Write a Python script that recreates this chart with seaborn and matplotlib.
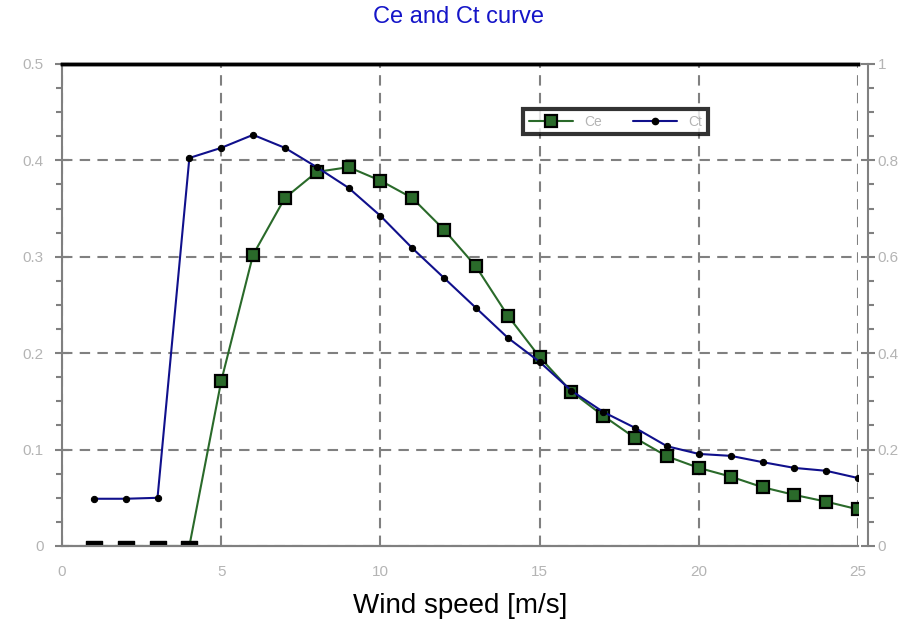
import matplotlib
matplotlib.use('Agg')
import matplotlib.pyplot as plt
import seaborn as sns
import numpy as np
from matplotlib.ticker import MultipleLocator
from matplotlib.lines import Line2D

# data
wind_speed = list(range(1, 26))
ce_values = [0, 0, 0, 0, 0.171, 0.302, 0.361, 0.388, 0.393, 0.379, 0.361, 0.328,
             0.290, 0.239, 0.196, 0.160, 0.135, 0.112, 0.093, 0.081, 0.072,
             0.061, 0.053, 0.046, 0.038]
ct_values = [0.098, 0.098, 0.1, 0.805, 0.826, 0.853, 0.826, 0.786, 0.743, 0.685,
             0.618, 0.556, 0.494, 0.432, 0.382, 0.322, 0.278, 0.245, 0.207,
             0.191, 0.187, 0.174, 0.162, 0.156, 0.141]

sns.set_theme(style='white')
plt.rcParams['font.family'] = ['Liberation Sans', 'DejaVu Sans']

grey = '#808080'
label_grey = '#b4b4b4'
ce_color = '#2a6a2a'
ct_color = '#10108c'

fig = plt.figure(figsize=(9.13, 6.23), dpi=100)
ax1 = fig.add_axes([0.0679, 0.1236, 0.8719, 0.7737])
ax2 = ax1.twinx()

ce_arr = np.array(ce_values)
on_axis = np.flatnonzero(ce_arr == 0)
above = [int(i) for i in np.flatnonzero(ce_arr > 0)]

sns.lineplot(x=wind_speed, y=ce_values, ax=ax1, color=ce_color, linewidth=1.5,
             marker='s', markersize=8, markerfacecolor=ce_color,
             markeredgecolor='black', markeredgewidth=1.6, markevery=above,
             zorder=3)
# points lying on the zero line only show their upper part in the original
half_square = [(-1, 0), (1, 0), (1, 0.7), (-1, 0.7), (-1, 0)]
ax1.plot(np.array(wind_speed)[on_axis], ce_arr[on_axis], linestyle='none',
         marker=half_square, markersize=11, color='black', zorder=3)
sns.lineplot(x=wind_speed, y=ct_values, ax=ax2, color=ct_color, linewidth=1.5,
             marker='o', markersize=4.5, markerfacecolor='black',
             markeredgecolor='black', zorder=3)

ax1.set_xlim(0, 25)
ax1.set_ylim(0, 0.5)
ax2.set_ylim(0, 1)

ax1.xaxis.set_minor_locator(MultipleLocator(1.25))
ax1.yaxis.set_minor_locator(MultipleLocator(0.025))
ax2.yaxis.set_minor_locator(MultipleLocator(0.05))

ax1.set_xticks([0, 5, 10, 15, 20, 25])
ax1.set_xticklabels(['0', '5', '10', '15', '20', '25'])
ax1.set_yticks([0, 0.1, 0.2, 0.3, 0.4, 0.5])
ax1.set_yticklabels(['0', '0.1', '0.2', '0.3', '0.4', '0.5'])
ax2.set_yticks([0, 0.2, 0.4, 0.6, 0.8, 1.0])
ax2.set_yticklabels(['0', '0.2', '0.4', '0.6', '0.8', '1'])

ax1.grid(True, which='major', color=grey, linestyle=(0, (5, 3.5)), linewidth=1.5)
ax2.grid(False)

for ax in (ax1, ax2):
    for side in ('left', 'right', 'bottom'):
        ax.spines[side].set_color(grey)
        ax.spines[side].set_linewidth(1.5)
    ax.spines['top'].set_color('black')
    ax.spines['top'].set_linewidth(2.5)
ax1.spines['right'].set_visible(False)
ax2.spines['left'].set_visible(False)
ax2.spines['right'].set_position(('outward', 7))

ax1.tick_params(axis='both', which='major', direction='inout', length=10, width=1.5,
                color=grey, labelcolor=label_grey, labelsize=11)
ax1.tick_params(axis='both', which='minor', direction='out', length=4, width=1.5,
                color=grey)
ax2.tick_params(axis='y', which='major', direction='inout', length=10, width=1.5,
                color=grey, labelcolor=label_grey, labelsize=11, pad=2)
ax2.tick_params(axis='y', which='minor', direction='out', length=4, width=1.5,
                color=grey)
ax1.tick_params(axis='y', pad=8)
ax1.tick_params(axis='x', pad=9)

ax1.set_xlabel('Wind speed [m/s]', fontsize=20, color='black', labelpad=10)
ax1.set_ylabel('')
ax2.set_ylabel('')
fig.suptitle('Ce and Ct curve', x=0.502, y=0.99, fontsize=17, color='#1515c8')

handles = [
    Line2D([], [], color=ce_color, linewidth=1.5, marker='s', markersize=8,
           markerfacecolor=ce_color, markeredgecolor='black', markeredgewidth=1.6),
    Line2D([], [], color=ct_color, linewidth=1.5, marker='o', markersize=4.5,
           markerfacecolor='black', markeredgecolor='black'),
]
leg = ax2.legend(handles, ['Ce', 'Ct'], ncol=2, loc='upper left',
                 bbox_to_anchor=(0.571, 0.921), frameon=True, fancybox=False,
                 fontsize=10, handlelength=3.2, handletextpad=0.8,
                 columnspacing=2.2, borderpad=0.4, labelcolor=label_grey)
leg.get_frame().set_edgecolor('black')
leg.get_frame().set_linewidth(3)

fig.savefig('out.png', dpi=100)
